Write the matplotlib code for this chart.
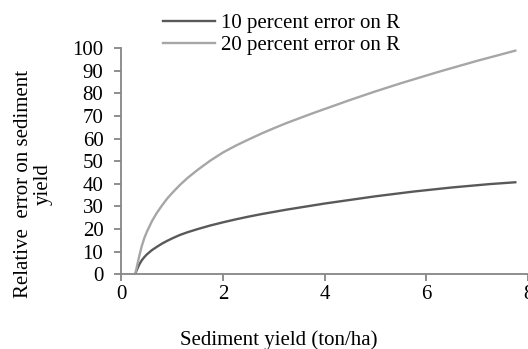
import matplotlib
matplotlib.use("Agg")
import matplotlib.pyplot as plt

# curve data
sed_yield = [0.27, 0.3, 0.35, 0.4, 0.45, 0.5, 0.6, 0.7, 0.8, 0.9, 1.0, 1.15,
             1.3, 1.5, 1.75, 2.0, 2.25, 2.5, 2.75, 3.0, 3.25, 3.5, 3.75, 4.0,
             4.25, 4.5, 4.75, 5.0, 5.25, 5.5, 5.75, 6.0, 6.25, 6.5, 6.75, 7.0,
             7.25, 7.5, 7.75]
err_10 = [0, 1.8, 4.3, 6.2, 7.6, 8.8, 10.7, 12.2, 13.6, 14.8, 15.9, 17.4,
          18.6, 20.0, 21.6, 23.0, 24.3, 25.5, 26.6, 27.6, 28.6, 29.5, 30.4, 31.3,
          32.1, 32.9, 33.7, 34.5, 35.2, 35.9, 36.6, 37.2, 37.8, 38.4, 38.9, 39.4,
          39.9, 40.3, 40.7]
err_20 = [0, 3, 8, 12.5, 16, 18.8, 23.5, 27.3, 30.5, 33.5, 36.0, 39.5,
          42.6, 46.2, 50.3, 53.9, 56.9, 59.6, 62.2, 64.6, 66.9, 69.0, 71.1, 73.1,
          75.1, 77.1, 79.0, 80.9, 82.7, 84.5, 86.2, 87.9, 89.6, 91.2, 92.8, 94.4,
          95.9, 97.4, 98.9]
labels = ['10 percent error on R', '20 percent error on R']
xticks = [0, 2, 4, 6, 8]
yticks = list(range(0, 101, 10))

plt.rcParams['font.family'] = ['Liberation Serif', 'DejaVu Serif']
plt.rcParams['font.size'] = 15

fig = plt.figure(figsize=(5.28, 3.49), dpi=100)
ax = fig.add_axes([0.230, 0.214, 0.770, 0.648])

ax.plot(sed_yield, err_10, color='#595959', lw=1.7, label=labels[0])
ax.plot(sed_yield, err_20, color='#a6a6a6', lw=1.7, label=labels[1])

ax.set_xlim(0, 8)
ax.set_ylim(0, 100)
ax.set_xticks(xticks)
ax.set_yticks(yticks)

for s in ['top', 'right']:
    ax.spines[s].set_visible(False)
for s in ['left', 'bottom']:
    ax.spines[s].set_color('#868686')
    ax.spines[s].set_linewidth(1.3)
ax.tick_params(axis='both', colors='#868686', labelcolor='black', width=1.3, length=5)
ax.tick_params(axis='y', pad=8)
ax.tick_params(axis='x', pad=3)

fig.text(0.528, 0.026, 'Sediment yield (ton/ha)', ha='center', va='center')
fig.text(0.063, 0.473, 'Relative  error on sediment\nyield', ha='center', va='center',
         rotation=90, linespacing=1.1, multialignment='center')

fig.legend(loc='upper center', bbox_to_anchor=(0.533, 0.99), frameon=False,
           handlelength=2.5, handletextpad=0.25, labelspacing=0.1, borderpad=0)

fig.savefig('out.png', dpi=100)
